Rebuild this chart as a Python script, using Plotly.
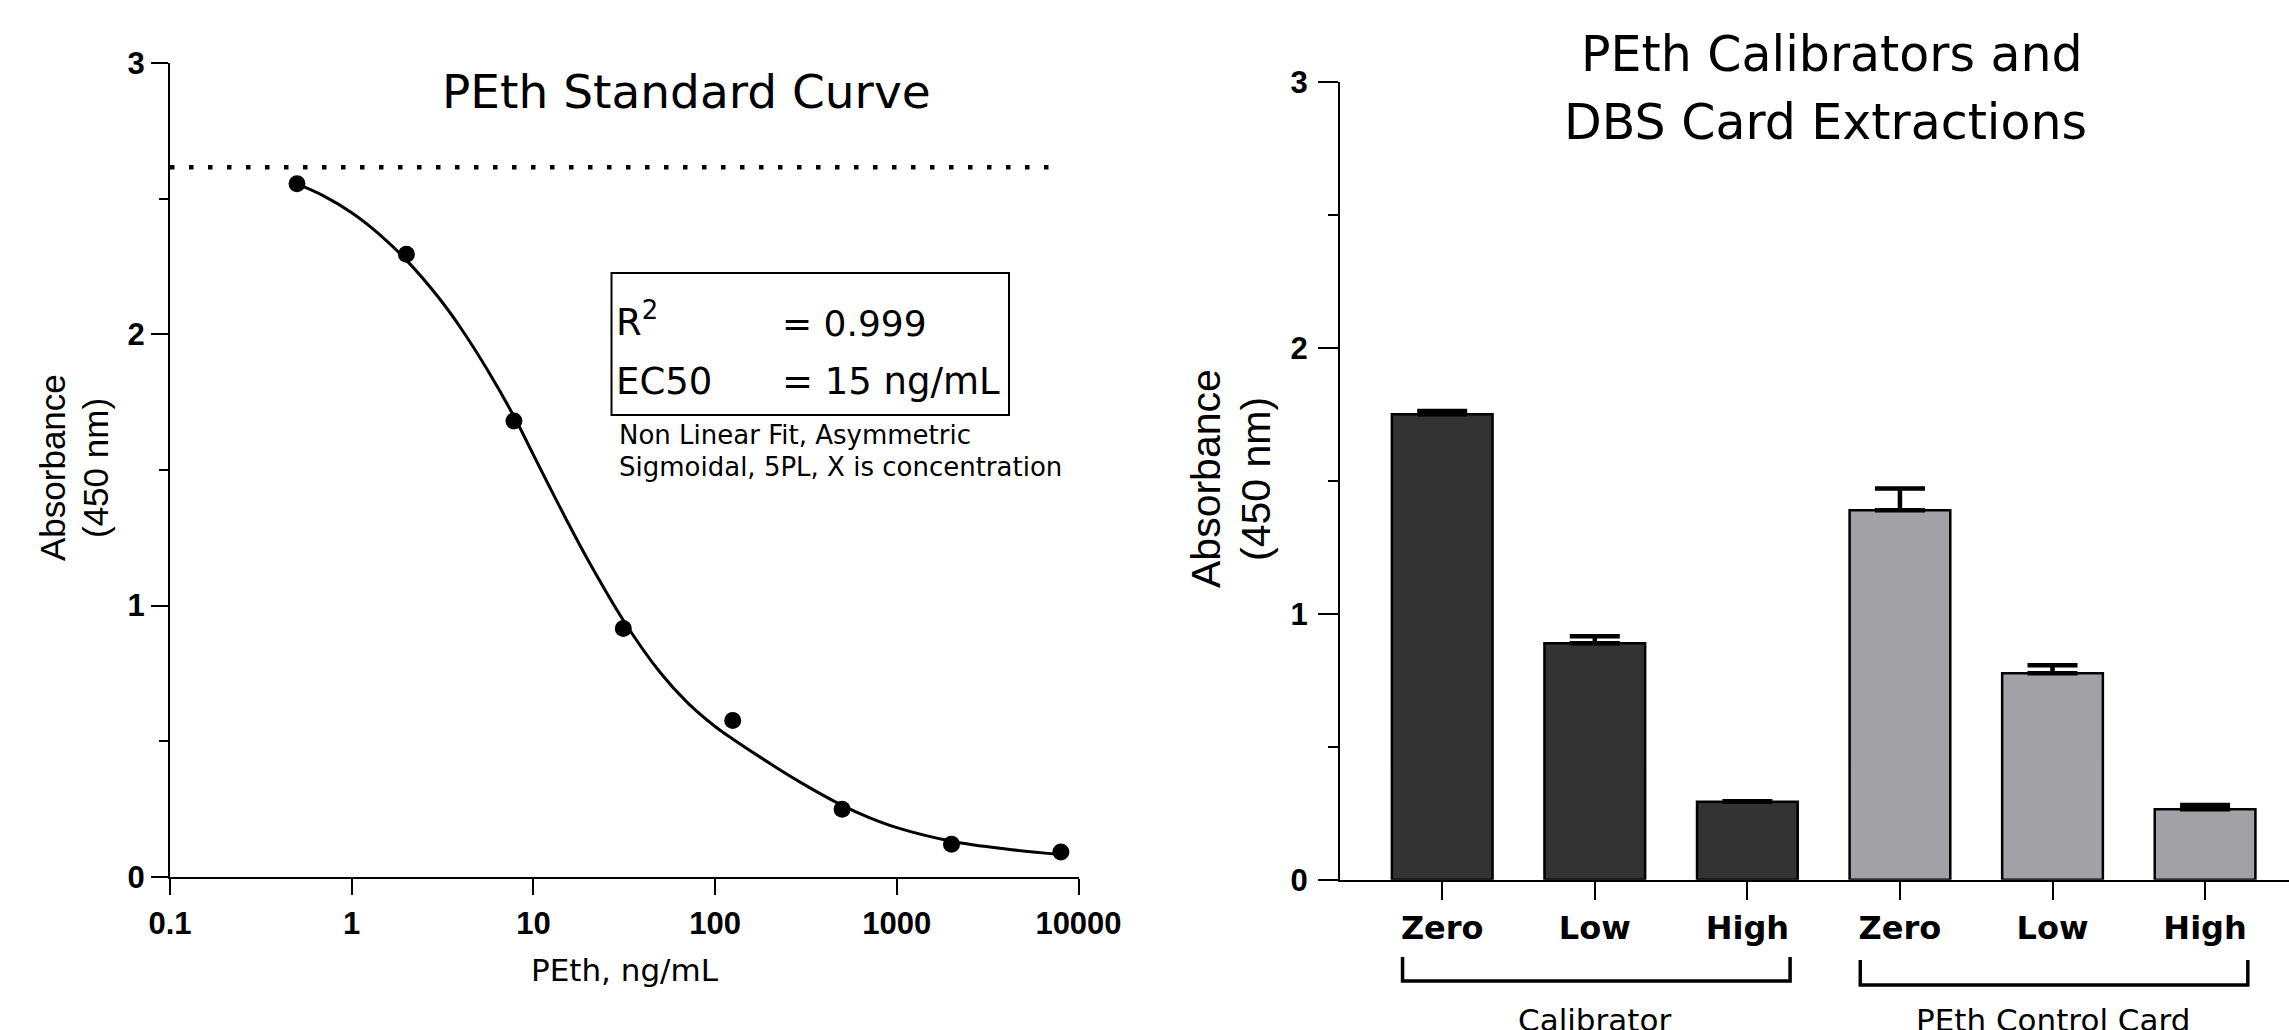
import plotly.graph_objects as go

W, H = 2289, 1030

# ---------------- Left panel data: PEth standard curve ----------------
conc = [0.5, 2, 7.8125, 31.25, 125, 500, 2000, 8000]
absorb = [2.556, 2.296, 1.681, 0.915, 0.576, 0.249, 0.120, 0.091]

# fitted curve
fit_x = [0.5, 0.7, 1, 1.4, 2, 3, 4, 5.6, 7.94, 10, 15, 20, 31.25, 50, 70, 100,
         125, 200, 300, 500, 700, 1000, 2000, 4000, 8000]
fit_y = [2.555, 2.511, 2.449, 2.373, 2.274, 2.137, 2.022, 1.868, 1.689, 1.556,
         1.324, 1.167, 0.946, 0.752, 0.644, 0.554, 0.508, 0.418, 0.345, 0.263,
         0.219, 0.181, 0.131, 0.102, 0.082]

top_plateau = 2.617
plateau_x = [0.1, 7000]

left_xticks = [0.1, 1, 10, 100, 1000, 10000]
left_xticktext = ["0.1", "1", "10", "100", "1000", "10000"]
y_ticks = [0, 1, 2, 3]
y_ticktext = ["0", "1", "2", "3"]

# ---------------- Right panel data: calibrators & DBS cards ----------------
levels = ["Zero", "Low", "High"]
groups = ["Calibrator", "PEth Control Card"]
cal_vals = [1.750, 0.889, 0.293]
cal_err = [0.012, 0.026, 0.002]
card_vals = [1.389, 0.776, 0.265]
card_err = [0.082, 0.030, 0.016]

DIN = "DejaVu Sans"
ARIAL = "Liberation Sans"

def px(xp):
    return xp / W

def py(yp):
    return 1 - yp / H

fig = go.Figure()

# dotted top plateau
fig.add_trace(go.Scatter(
    x=plateau_x, y=[top_plateau] * len(plateau_x), mode="lines",
    line=dict(color="black", width=4.5, dash="4.5px,14.5px"),
    xaxis="x", yaxis="y", showlegend=False, hoverinfo="skip"))

# fitted curve
fig.add_trace(go.Scatter(
    x=fit_x, y=fit_y, mode="lines",
    line=dict(color="black", width=3, shape="spline", smoothing=1.0),
    xaxis="x", yaxis="y", showlegend=False))

# data points
fig.add_trace(go.Scatter(
    x=conc, y=absorb, mode="markers", marker=dict(color="black", size=17),
    xaxis="x", yaxis="y", showlegend=False))

# bars
n = len(levels)
cal_x = list(range(n))
card_x = [i + n for i in range(n)]
fig.add_trace(go.Bar(
    x=cal_x, y=cal_vals, width=0.66, xaxis="x2", yaxis="y2",
    marker=dict(color="#333333", line=dict(color="black", width=2.5)),
    error_y=dict(type="data", array=cal_err, arrayminus=[0] * n, color="black",
                 thickness=4.5, width=25),
    showlegend=False, name=groups[0]))
fig.add_trace(go.Bar(
    x=card_x, y=card_vals, width=0.66, xaxis="x2", yaxis="y2",
    marker=dict(color="#a2a1a6", line=dict(color="black", width=2.5)),
    error_y=dict(type="data", array=card_err, arrayminus=[0] * n, color="black",
                 thickness=4.5, width=25),
    showlegend=False, name=groups[1]))

num_font = dict(family=ARIAL, size=31, color="black", weight="bold")

fig.update_layout(
    width=W, height=H, margin=dict(l=0, r=0, t=0, b=0, pad=0, autoexpand=False),
    paper_bgcolor="white", plot_bgcolor="white",
    bargap=0,
    xaxis=dict(
        domain=[px(170), px(1078.5)], type="log", range=[-1, 4], anchor="y",
        tickvals=left_xticks, ticktext=left_xticktext,
        showline=True, linecolor="black", linewidth=2,
        ticks="outside", ticklen=16, tickwidth=2, tickcolor="black",
        tickfont=num_font, showgrid=False, zeroline=False, automargin=False,
        ticklabelstandoff=2),
    yaxis=dict(
        domain=[py(876.7), py(63.3)], range=[0, 3], anchor="x",
        tickvals=y_ticks, ticktext=y_ticktext,
        showline=True, linecolor="black", linewidth=2,
        ticks="outside", ticklen=17, tickwidth=2, tickcolor="black",
        minor=dict(dtick=0.5, ticks="outside", ticklen=9, tickwidth=2, tickcolor="black"),
        tickfont=num_font, showgrid=False, zeroline=False, automargin=False),
    xaxis2=dict(
        domain=[px(1340), 1.0], range=[-0.67, 5.55], anchor="y2",
        tickvals=cal_x + card_x, ticktext=levels + levels,
        showline=True, linecolor="black", linewidth=2.5,
        ticks="outside", ticklen=18, tickwidth=2, tickcolor="black",
        tickfont=dict(family=DIN, size=32, color="black", weight="bold"),
        showgrid=False, zeroline=False, automargin=False, ticklabelstandoff=0),
    yaxis2=dict(
        domain=[py(879.7), py(81.7)], range=[0, 3], anchor="x2",
        tickvals=y_ticks, ticktext=y_ticktext,
        showline=True, linecolor="black", linewidth=2,
        ticks="outside", ticklen=20, tickwidth=2, tickcolor="black",
        minor=dict(dtick=0.5, ticks="outside", ticklen=10, tickwidth=2, tickcolor="black"),
        tickfont=num_font, showgrid=False, zeroline=False, automargin=False,
        ticklabelstandoff=4),
)

ann = []

def text(t, x, y, size, family=DIN, xanchor="center", yanchor="middle", angle=0):
    ann.append(dict(text=t, x=px(x), y=py(y), xref="paper", yref="paper",
                    xanchor=xanchor, yanchor=yanchor, showarrow=False, textangle=angle,
                    font=dict(family=family, size=size, color="black")))

# left panel texts
text("PEth Standard Curve", 686, 91, 47)
text("R<sup>2</sup>", 614, 319, 37, xanchor="left")
text("= 0.999", 780, 323, 36, xanchor="left")
text("EC50", 614, 382, 37, xanchor="left")
text("= 15 ng/mL", 780, 382, 37, xanchor="left")
text("Non Linear Fit, Asymmetric", 617, 435, 26, xanchor="left")
text("Sigmoidal, 5PL, X is concentration", 617, 467, 26, xanchor="left")
text("PEth, ng/mL", 625, 970, 31)
text("Absorbance", 53, 468, 35, family=ARIAL, angle=-90)
text("(450 nm)", 96, 468, 35, family=ARIAL, angle=-90)

# right panel texts
text("PEth Calibrators and", 1832, 55, 49)
text("DBS Card Extractions", 1825, 122, 49)
text("Absorbance", 1206, 479, 41, family=ARIAL, angle=-90)
text("(450 nm)", 1256, 479, 41, family=ARIAL, angle=-90)

# group labels and brackets
group_members = [cal_x, card_x]
bracket_y = [(957, 981), (960, 985)]
shapes = []
for g, members, (ytop, ybot) in zip(groups, group_members, bracket_y):
    x0 = members[0] - 0.26
    x1 = members[-1] + 0.28
    shapes.append(dict(type="path", xref="x2", yref="paper",
                       path=f"M {x0},{py(ytop)} L {x0},{py(ybot)} L {x1},{py(ybot)} L {x1},{py(ytop)}",
                       line=dict(color="black", width=3.5)))
    mid = (members[0] + members[-1]) / 2
    ann.append(dict(text=g, x=mid, y=py(1020), xref="x2", yref="paper",
                    xanchor="center", yanchor="middle", showarrow=False,
                    font=dict(family=DIN, size=31, color="black")))

# result box
shapes.append(dict(type="rect", xref="paper", yref="paper",
                   x0=px(611.5), x1=px(1009), y0=py(415), y1=py(273),
                   line=dict(color="black", width=2)))

fig.update_layout(annotations=ann, shapes=shapes)

# remove the default page margin so the figure fills the window exactly
page_css = ("document.body.style.margin='0';document.body.style.padding='0';"
            "document.documentElement.style.overflow='hidden';"
            "document.body.style.overflow='hidden';")
fig.write_html("out.html", post_script=page_css,
               config={"displayModeBar": False, "staticPlot": True})
